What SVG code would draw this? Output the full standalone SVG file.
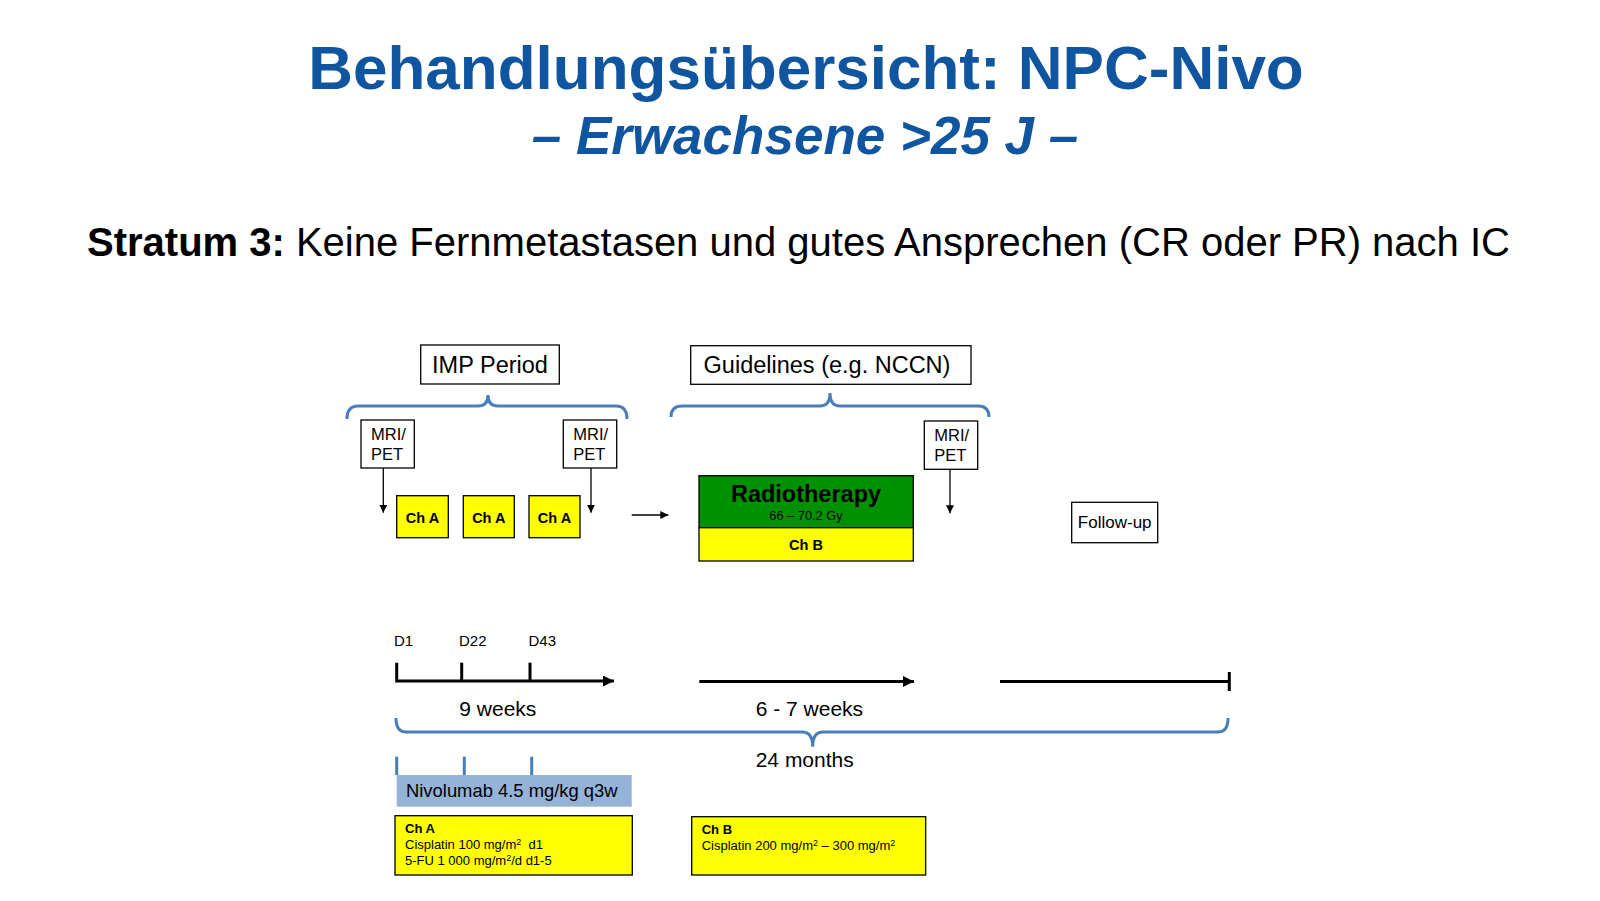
<svg xmlns="http://www.w3.org/2000/svg" width="1600" height="901" viewBox="0 0 1600 901">
<style>
text{font-family:"Liberation Sans",Arial,sans-serif;fill:#000}
.title{font-weight:bold;fill:#0F559F}
.box{fill:#fff;stroke:#000;stroke-width:1.3}
.yel{fill:#FFFF00;stroke:#000;stroke-width:1.3}
.brace{fill:none;stroke:#4A7EBB;stroke-width:3}
.tl{fill:none;stroke:#000;stroke-width:3}
.thin{fill:none;stroke:#000;stroke-width:1.3}
.b{font-weight:bold}
</style>
<defs>
<marker id="ah" viewBox="0 0 10 10" refX="10" refY="5" markerWidth="8" markerHeight="8" markerUnits="userSpaceOnUse" orient="auto"><path d="M0,0 L10,5 L0,10 z" fill="#000"/></marker>
<marker id="ahb" viewBox="0 0 10 10" refX="10" refY="5" markerWidth="13" markerHeight="11" markerUnits="userSpaceOnUse" orient="auto"><path d="M0,0 L10,5 L0,10 z" fill="#000"/></marker>
</defs>
<rect width="1600" height="901" fill="#fff"/>
<g id="title">
<text class="title" x="806" y="89" font-size="62" text-anchor="middle">Behandlungsübersicht: NPC-Nivo</text>
<text class="title" x="805" y="154" font-size="53" text-anchor="middle" font-style="italic">– Erwachsene &gt;25 J –</text>
<text x="87" y="256" font-size="40"><tspan class="b">Stratum 3:</tspan> Keine Fernmetastasen und gutes Ansprechen (CR oder PR) nach IC</text>
</g>
<g id="imp-period">
<rect class="box" x="420.7" y="345" width="138.6" height="39"/>
<text x="490" y="373" font-size="23.5" text-anchor="middle">IMP Period</text>
</g>
<g id="guidelines">
<rect class="box" x="690.7" y="345.7" width="280.3" height="38.6"/>
<text x="827" y="373" font-size="23.5" text-anchor="middle">Guidelines (e.g. NCCN)</text>
</g>
<g id="mri1">
<rect class="box" x="361" y="420" width="53.3" height="48"/>
<text x="371" y="440" font-size="16.5">MRI/</text>
<text x="371" y="459.5" font-size="16.5">PET</text>
</g>
<g id="mri2">
<rect class="box" x="563.3" y="420" width="53.4" height="48"/>
<text x="573.3" y="440" font-size="16.5">MRI/</text>
<text x="573.3" y="459.5" font-size="16.5">PET</text>
</g>
<g id="mri3">
<rect class="box" x="924.3" y="421" width="53.4" height="48.3"/>
<text x="934.3" y="441" font-size="16.5">MRI/</text>
<text x="934.3" y="460.5" font-size="16.5">PET</text>
</g>
<g id="cha1">
<rect class="yel" x="396.7" y="495.7" width="51.6" height="42"/>
<text class="b" x="422.5" y="522.7" font-size="14.5" text-anchor="middle">Ch A</text>
</g>
<g id="cha2">
<rect class="yel" x="463.3" y="495.7" width="51" height="42"/>
<text class="b" x="488.8" y="522.7" font-size="14.5" text-anchor="middle">Ch A</text>
</g>
<g id="cha3">
<rect class="yel" x="529" y="495.7" width="51" height="42"/>
<text class="b" x="554.5" y="522.7" font-size="14.5" text-anchor="middle">Ch A</text>
</g>
<g id="radiotherapy">
<rect x="699" y="475.7" width="214.3" height="52" fill="#009100" stroke="#000" stroke-width="1.3"/>
<text class="b" x="806" y="501.7" font-size="23.5" text-anchor="middle" fill="#111">Radiotherapy</text>
<text x="806" y="519.5" font-size="12.8" text-anchor="middle" fill="#222">66 – 70.2 Gy</text>
<rect class="yel" x="699" y="527.7" width="214.3" height="33.3"/>
<text class="b" x="806" y="550" font-size="14.5" text-anchor="middle">Ch B</text>
</g>
<g id="follow-up">
<rect class="box" x="1071.7" y="502.3" width="86" height="40.4"/>
<text x="1114.7" y="528" font-size="17" text-anchor="middle">Follow-up</text>
</g>
<g id="timeline-labels">
<text x="394" y="646" font-size="15">D1</text>
<text x="459" y="646" font-size="15">D22</text>
<text x="528.5" y="646" font-size="15">D43</text>
<text x="459.3" y="716" font-size="21">9 weeks</text>
<text x="755.7" y="716" font-size="21">6 - 7 weeks</text>
<text x="755.7" y="767" font-size="21">24 months</text>
</g>
<g id="nivolumab">
<rect x="396.7" y="775" width="235" height="31.7" fill="#95B3D7"/>
<text x="406" y="797" font-size="18.4">Nivolumab 4.5 mg/kg q3w</text>
</g>
<g id="legend-cha">
<rect class="yel" x="395" y="815.7" width="237.3" height="59.3"/>
<text class="b" x="405" y="833.3" font-size="13">Ch A</text>
<text x="405" y="849.3" font-size="13">Cisplatin 100 mg/m<tspan font-size="9" dy="-4">2</tspan><tspan dy="4" xml:space="preserve">  d1</tspan></text>
<text x="405" y="865" font-size="13">5-FU 1 000 mg/m<tspan font-size="9" dy="-4">2</tspan><tspan dy="4">/d d1-5</tspan></text>
</g>
<g id="legend-chb">
<rect class="yel" x="691.7" y="816.7" width="234" height="58.3"/>
<text class="b" x="701.7" y="834" font-size="13">Ch B</text>
<text x="701.7" y="850" font-size="13">Cisplatin 200 mg/m<tspan font-size="9" dy="-4">2</tspan><tspan dy="4"> – 300 mg/m</tspan><tspan font-size="9" dy="-4">2</tspan></text>
</g>
<g id="connectors">
<path class="brace" d="M347,419 Q347,406 358,406 L478,406 Q488,406 488,395 Q488,406 498,406 L616,406 Q627,406 627,419"/>
<path class="brace" d="M671,417 Q671,406 682,406 L820,406 Q830,406 830,393 Q830,406 840,406 L978,406 Q989,406 989,417"/>
<path class="brace" d="M396,718 Q396,732 406,732 L802,732 Q812.7,732 812.7,746.7 Q812.7,732 823,732 L1218,732 Q1228,732 1228,718"/>
<line class="thin" x1="383.3" y1="468" x2="383.3" y2="512.7" marker-end="url(#ah)"/>
<line class="thin" x1="591" y1="468" x2="591" y2="512.7" marker-end="url(#ah)"/>
<line class="thin" x1="950" y1="469.3" x2="950" y2="513.3" marker-end="url(#ah)"/>
<line class="thin" x1="631.7" y1="515" x2="668.3" y2="515" marker-end="url(#ah)"/>
<path class="tl" d="M396.7,662.7 V681 H614" marker-end="url(#ahb)"/>
<line class="tl" x1="461.7" y1="662.7" x2="461.7" y2="681"/>
<line class="tl" x1="530" y1="662.7" x2="530" y2="681"/>
<line class="tl" x1="699.3" y1="681.5" x2="914" y2="681.5" marker-end="url(#ahb)"/>
<line class="tl" x1="1000" y1="681.5" x2="1229.3" y2="681.5"/>
<line class="tl" x1="1229.3" y1="672" x2="1229.3" y2="691"/>
<line class="brace" x1="396.7" y1="756.7" x2="396.7" y2="775" stroke="#2E75B6"/>
<line class="brace" x1="464.3" y1="756.7" x2="464.3" y2="775" stroke="#2E75B6"/>
<line class="brace" x1="531.7" y1="756.7" x2="531.7" y2="775" stroke="#2E75B6"/>
</g>
</svg>
